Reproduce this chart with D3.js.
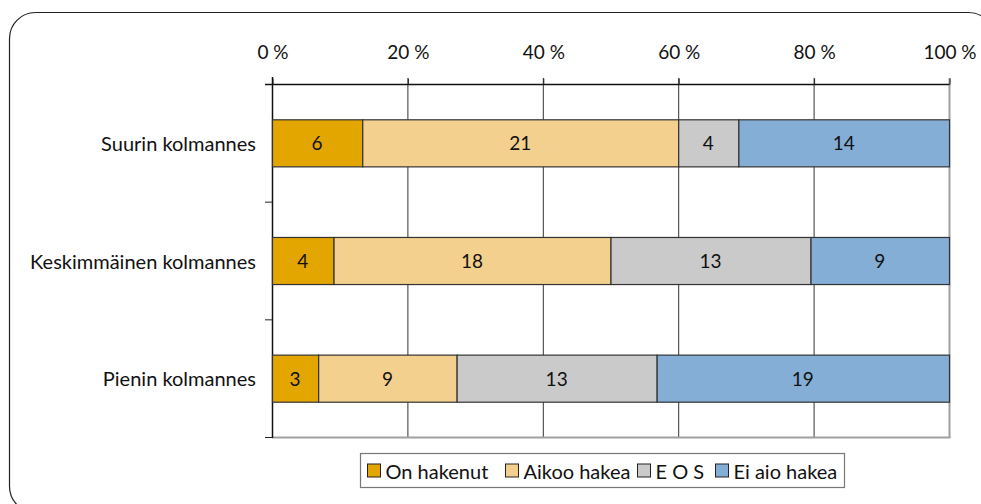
<!DOCTYPE html>
<html>
<head>
<meta charset="utf-8">
<script src="https://cdn.jsdelivr.net/npm/d3@7"></script>
<style>
  html, body { margin: 0; padding: 0; background: #fff; }
  svg { display: block; font-family: Lato, "Open Sans", sans-serif; }
</style>
</head>
<body>
<svg id="chart" width="981" height="504"></svg>
<script>
const categories = ["Suurin kolmannes", "Keskimmäinen kolmannes", "Pienin kolmannes"];
const seriesNames = ["On hakenut", "Aikoo hakea", "E O S", "Ei aio hakea"];
const onHakenut = [6, 4, 3];
const aikooHakea = [21, 18, 9];
const eos = [4, 13, 13];
const eiAioHakea = [14, 9, 19];
const tickValues = [0, 0.2, 0.4, 0.6, 0.8, 1];
const tickLabels = ["0 %", "20 %", "40 %", "60 %", "80 %", "100 %"];
const colors = ["#E3A600", "#F4D08E", "#CACACA", "#84AED6"];

const seriesValues = [onHakenut, aikooHakea, eos, eiAioHakea];
const rows = categories.map((c, i) => {
  const r = { category: c };
  seriesNames.forEach((s, j) => r[s] = seriesValues[j][i]);
  return r;
});

const svg = d3.select("#chart");
const margin = { left: 272, right: 981 - 949, top: 84, bottom: 504 - 437 };
const W = 981, H = 504;

// outer rounded frame
svg.append("rect")
  .attr("x", 9.5).attr("y", 12.5)
  .attr("width", 985).attr("height", 500)
  .attr("rx", 26).attr("ry", 26)
  .attr("fill", "#fff").attr("stroke", "#222").attr("stroke-width", 1.2);

const x = d3.scaleLinear().domain([0, 1]).range([margin.left, W - margin.right]);
const y = d3.scaleBand().domain(categories).range([margin.top, H - margin.bottom]).paddingInner(0.6).paddingOuter(0.3);
const yb = d3.scaleBand().domain(categories).range([margin.top, H - margin.bottom]).padding(0);

const stack = d3.stack().keys(seriesNames).offset(d3.stackOffsetExpand);
const stacked = stack(rows);

// gridlines
const g = svg.append("g");
g.selectAll("line.grid").data(tickValues.slice(1, -1)).join("line")
  .attr("x1", d => x(d) + 0.5).attr("x2", d => x(d) + 0.5)
  .attr("y1", margin.top - 6).attr("y2", H - margin.bottom)
  .attr("stroke", "#333").attr("stroke-width", 1);

// right gray border & bottom gray line
svg.append("line")
  .attr("x1", x(1) + 0.5).attr("x2", x(1) + 0.5)
  .attr("y1", margin.top - 6).attr("y2", H - margin.bottom + 1)
  .attr("stroke", "#a0a0a0").attr("stroke-width", 2);
svg.append("line")
  .attr("x1", margin.left).attr("x2", x(1) + 1.5)
  .attr("y1", H - margin.bottom + 0.5).attr("y2", H - margin.bottom + 0.5)
  .attr("stroke", "#a0a0a0").attr("stroke-width", 2);

// top axis
const xAxis = d3.axisTop(x).tickValues(tickValues).tickFormat((d, i) => tickLabels[i]).tickSize(6).tickSizeOuter(0);
const xa = svg.append("g").attr("transform", `translate(0.5,${margin.top + 0.5})`).call(xAxis);
xa.select(".domain").attr("stroke", "#111").attr("stroke-width", 1.5).attr("d", `M${margin.left - 7.5},0H${x(1)}`);
xa.selectAll(".tick line").attr("stroke", "#222");
xa.selectAll(".tick text").attr("font-size", 19).attr("fill", "#111").attr("font-family", "Lato, sans-serif")
  .attr("y", -32).attr("dy", "0.32em");

// left axis line & ticks at band boundaries
svg.append("line")
  .attr("x1", margin.left + 0.5).attr("x2", margin.left + 0.5)
  .attr("y1", margin.top - 7).attr("y2", H - margin.bottom + 1)
  .attr("stroke", "#111").attr("stroke-width", 1.5);
const bounds = categories.map(c => yb(c)).concat([H - margin.bottom]);
svg.selectAll("line.ltick").data(bounds.slice(1)).join("line")
  .attr("x1", margin.left - 7).attr("x2", margin.left)
  .attr("y1", d => d + 0.5).attr("y2", d => d + 0.5)
  .attr("stroke", "#222");

// bars
const layer = svg.selectAll("g.layer").data(stacked).join("g")
  .attr("fill", (d, i) => colors[i]);
layer.selectAll("rect").data(d => d.map(v => ({ v, key: d.key }))).join("rect")
  .attr("x", d => x(d.v[0]) + 0.5)
  .attr("y", d => y(d.v.data.category) + 0.5)
  .attr("width", d => x(d.v[1]) - x(d.v[0]))
  .attr("height", y.bandwidth())
  .attr("stroke", "#333").attr("stroke-width", 1.2);

// labels
layer.selectAll("text").data(d => d.map(v => ({ v, key: d.key }))).join("text")
  .attr("x", d => (x(d.v[0]) + x(d.v[1])) / 2)
  .attr("y", d => y(d.v.data.category) + y.bandwidth() / 2)
  .attr("text-anchor", "middle").attr("dominant-baseline", "central")
  .attr("font-size", 19).attr("fill", "#111")
  .text(d => d.v.data[d.key]);

// category labels
svg.selectAll("text.cat").data(categories).join("text")
  .attr("class", "cat")
  .attr("x", margin.left - 16)
  .attr("y", d => y(d) + y.bandwidth() / 2)
  .attr("text-anchor", "end").attr("dominant-baseline", "central")
  .attr("font-size", 20).attr("fill", "#111")
  .text(d => d);

// legend
const lg = svg.append("g").attr("transform", "translate(360.5,453.5)");
lg.append("rect").attr("width", 484).attr("height", 34)
  .attr("fill", "#fff").attr("stroke", "#777").attr("stroke-width", 1.2);
const legendX = [7, 145, 277, 355];
const items = lg.selectAll("g.item").data(seriesNames).join("g")
  .attr("transform", (d, i) => `translate(${legendX[i]},10.5)`);
items.append("rect").attr("width", 13).attr("height", 13)
  .attr("fill", (d, i) => colors[i]).attr("stroke", "#222");
items.append("text").attr("x", 18).attr("y", 7)
  .attr("dominant-baseline", "central").attr("font-size", 20).attr("fill", "#111")
  .text(d => d);
</script>
</body>
</html>
